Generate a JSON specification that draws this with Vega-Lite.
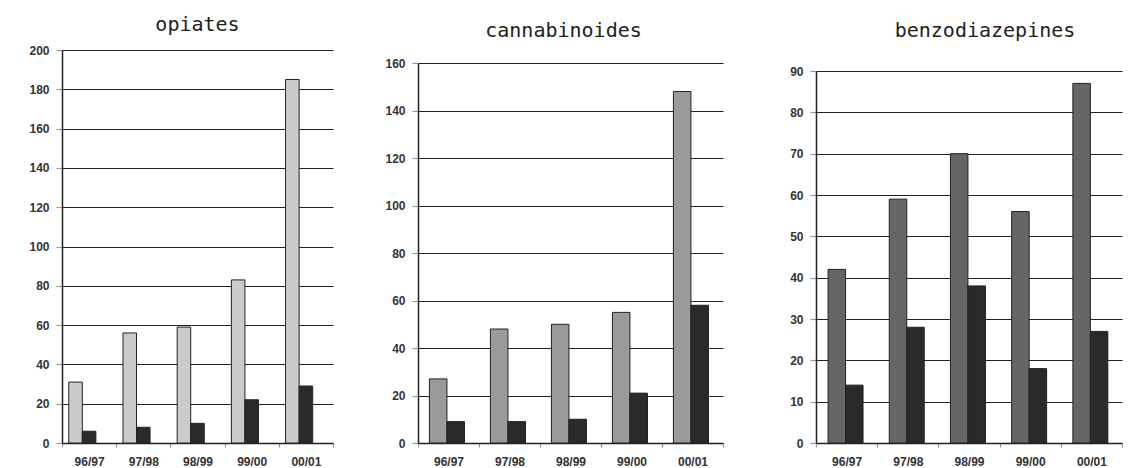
{
  "$schema": "https://vega.github.io/schema/vega-lite/v6.json",
  "padding": {"left": 0, "top": 15, "right": 0, "bottom": 0},
  "background": "white",
  "spacing": 40,
  "datasets": {
    "counts": [
      {"drug": "opiates", "year": "96/97", "series": "first", "value": 31},
      {"drug": "opiates", "year": "96/97", "series": "second", "value": 6},
      {"drug": "opiates", "year": "97/98", "series": "first", "value": 56},
      {"drug": "opiates", "year": "97/98", "series": "second", "value": 8},
      {"drug": "opiates", "year": "98/99", "series": "first", "value": 59},
      {"drug": "opiates", "year": "98/99", "series": "second", "value": 10},
      {"drug": "opiates", "year": "99/00", "series": "first", "value": 83},
      {"drug": "opiates", "year": "99/00", "series": "second", "value": 22},
      {"drug": "opiates", "year": "00/01", "series": "first", "value": 185},
      {"drug": "opiates", "year": "00/01", "series": "second", "value": 29},
      {"drug": "cannabinoides", "year": "96/97", "series": "first", "value": 27},
      {"drug": "cannabinoides", "year": "96/97", "series": "second", "value": 9},
      {"drug": "cannabinoides", "year": "97/98", "series": "first", "value": 48},
      {"drug": "cannabinoides", "year": "97/98", "series": "second", "value": 9},
      {"drug": "cannabinoides", "year": "98/99", "series": "first", "value": 50},
      {"drug": "cannabinoides", "year": "98/99", "series": "second", "value": 10},
      {"drug": "cannabinoides", "year": "99/00", "series": "first", "value": 55},
      {"drug": "cannabinoides", "year": "99/00", "series": "second", "value": 21},
      {"drug": "cannabinoides", "year": "00/01", "series": "first", "value": 148},
      {"drug": "cannabinoides", "year": "00/01", "series": "second", "value": 58},
      {"drug": "benzodiazepines", "year": "96/97", "series": "first", "value": 42},
      {"drug": "benzodiazepines", "year": "96/97", "series": "second", "value": 14},
      {"drug": "benzodiazepines", "year": "97/98", "series": "first", "value": 59},
      {"drug": "benzodiazepines", "year": "97/98", "series": "second", "value": 28},
      {"drug": "benzodiazepines", "year": "98/99", "series": "first", "value": 70},
      {"drug": "benzodiazepines", "year": "98/99", "series": "second", "value": 38},
      {"drug": "benzodiazepines", "year": "99/00", "series": "first", "value": 56},
      {"drug": "benzodiazepines", "year": "99/00", "series": "second", "value": 18},
      {"drug": "benzodiazepines", "year": "00/01", "series": "first", "value": 87},
      {"drug": "benzodiazepines", "year": "00/01", "series": "second", "value": 27}
    ]
  },
  "config": {
    "view": {"stroke": null},
    "title": {"font": "DejaVu Sans Mono", "fontSize": 20, "fontWeight": "normal", "color": "#222", "frame": "group", "offset": 12, "dy": 3},
    "axis": {
      "domainColor": "#222", "domainWidth": 1.5,
      "tickColor": "#999", "tickWidth": 1.2,
      "labelFont": "Liberation Sans", "labelFontWeight": "bold", "labelFontSize": 12, "labelColor": "#333",
      "gridColor": "#222", "gridWidth": 1.2, "gridOpacity": 1,
      "title": null
    },
    "axisX": {"labelAngle": 0, "tickBand": "extent", "tickSize": 4, "labelPadding": 9, "grid": false},
    "axisY": {"tickSize": 6, "labelPadding": 7, "grid": true}
  },
  "resolve": {"scale": {"color": "independent", "y": "independent", "x": "independent", "xOffset": "independent"}},
  "hconcat": [
    {
      "width": 271, "height": 393,
      "title": {"text": "opiates"},
      "data": {"name": "counts"},
      "transform": [{"filter": "datum.drug === 'opiates'"}],
      "mark": {"type": "bar", "stroke": "#222", "strokeWidth": 1},
      "encoding": {
        "x": {"field": "year", "type": "nominal", "sort": ["96/97", "97/98", "98/99", "99/00", "00/01"], "scale": {"paddingInner": 0, "paddingOuter": 0}},
        "xOffset": {"field": "series", "scale": {"domain": ["first", "second"], "paddingInner": 0, "paddingOuter": 1.077, "align": 0.25}},
        "y": {"field": "value", "type": "quantitative", "scale": {"domain": [0, 200]}, "axis": {"values": [0, 20, 40, 60, 80, 100, 120, 140, 160, 180, 200], "minExtent": 62, "maxExtent": 62}},
        "color": {"field": "series", "scale": {"domain": ["first", "second"], "range": ["#cbcbcb", "#2a2a2a"]}, "legend": null}
      }
    },
    {
      "width": 305, "height": 393,
      "title": {"text": "cannabinoides", "dx": -7},
      "data": {"name": "counts"},
      "transform": [{"filter": "datum.drug === 'cannabinoides'"}],
      "mark": {"type": "bar", "stroke": "#222", "strokeWidth": 1},
      "encoding": {
        "x": {"field": "year", "type": "nominal", "sort": ["96/97", "97/98", "98/99", "99/00", "00/01"], "scale": {"paddingInner": 0, "paddingOuter": 0}},
        "xOffset": {"field": "series", "scale": {"domain": ["first", "second"], "paddingInner": 0, "paddingOuter": 0.74, "align": 0.44}},
        "y": {"field": "value", "type": "quantitative", "scale": {"domain": [0, 160], "range": [393, 13]}, "axis": {"values": [0, 20, 40, 60, 80, 100, 120, 140, 160], "minExtent": 44, "maxExtent": 44}},
        "color": {"field": "series", "scale": {"domain": ["first", "second"], "range": ["#9a9a9a", "#2a2a2a"]}, "legend": null}
      }
    },
    {
      "width": 306, "height": 393,
      "title": {"text": "benzodiazepines", "dx": 16},
      "data": {"name": "counts"},
      "transform": [{"filter": "datum.drug === 'benzodiazepines'"}],
      "mark": {"type": "bar", "stroke": "#222", "strokeWidth": 1},
      "encoding": {
        "x": {"field": "year", "type": "nominal", "sort": ["96/97", "97/98", "98/99", "99/00", "00/01"], "scale": {"paddingInner": 0, "paddingOuter": 0}},
        "xOffset": {"field": "series", "scale": {"domain": ["first", "second"], "paddingInner": 0, "paddingOuter": 0.75, "align": 0.46}},
        "y": {"field": "value", "type": "quantitative", "scale": {"domain": [0, 90], "range": [393, 21]}, "axis": {"values": [0, 10, 20, 30, 40, 50, 60, 70, 80, 90], "minExtent": 52, "maxExtent": 52}},
        "color": {"field": "series", "scale": {"domain": ["first", "second"], "range": ["#666666", "#2a2a2a"]}, "legend": null}
      }
    }
  ]
}
